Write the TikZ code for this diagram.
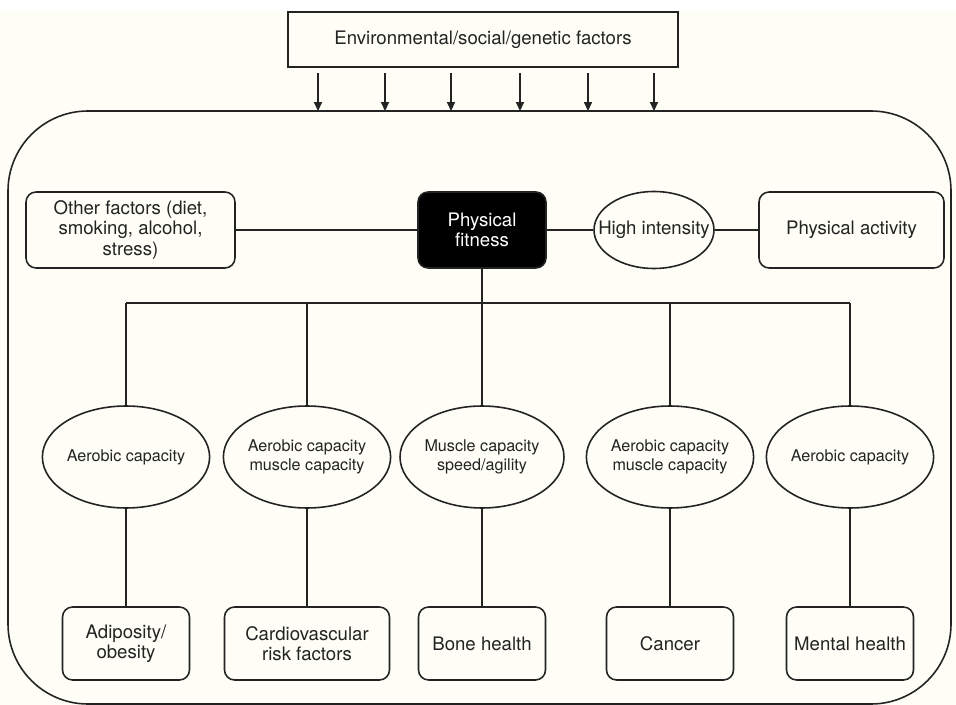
\documentclass[tikz,border=0pt]{standalone}
\usepackage{fontspec}
\setmainfont{TeX Gyre Heros}
\usetikzlibrary{shapes.geometric, arrows.meta}
\definecolor{Cream}{RGB}{254,254,246}
\definecolor{Ink}{RGB}{35,35,35}

\begin{document}
\begin{tikzpicture}[x=0.02cm, y=-0.02cm, line width=0.9pt, color=Ink,
    font=\fontsize{10.6}{11.6}\selectfont,
    box/.style={draw, rounded corners=0.2cm, fill=Cream, align=center, inner sep=0pt, minimum height=1.46cm},
    oval/.style={draw, ellipse, fill=Cream, align=center, inner sep=0pt, minimum width=3.28cm, minimum height=2.04cm, font=\fontsize{9.2}{11}\selectfont},
    arr/.style={-{Triangle[length=5pt,width=4.5pt]}}]
  % page
  \fill[white] (0,0) rectangle (956,705);
  \fill[Cream] (0,11) rectangle (956,705);
  \useasboundingbox (0,0) rectangle (956,705);

  % outer frame and factors on top
  \draw[rounded corners=1.6cm] (8,111) rectangle (951,704);
  \coordinate (frametop) at (482,111);
  \node[draw, fill=Cream, minimum width=7.8cm, minimum height=1.1cm] (env) at (483,39.5) {Environmental/social/genetic factors};
  \foreach \x in {318,385,451,520,588,654}
    \draw[arr] ([yshift=-3pt]env.south -| \x,0) -- (frametop -| \x,0);

  % top row
  \node[box, minimum width=4.18cm, minimum height=1.52cm] (other) at (130.5,230) {Other factors (diet,\\ smoking, alcohol,\\ stress)};
  \node[box, fill=black, text=white, minimum width=2.56cm, minimum height=1.52cm] (pf) at (482,230) {Physical\\ fitness};
  \node[draw, ellipse, fill=Cream, minimum width=2.4cm, minimum height=1.54cm, label=center:High intensity] (hi) at (654,230) {};
  \node[box, minimum width=3.7cm, minimum height=1.52cm] (pa) at (851.5,230) {Physical activity};
  \draw (other) -- (pf) -- (hi) -- (pa);

  % fitness components
  \coordinate (bus) at (482,303);
  \node[oval] (e1) at (126,457) {Aerobic capacity};
  \node[oval] (e2) at (307,457) {Aerobic capacity\\ muscle capacity};
  \node[oval] (e3) at (482,457) {Muscle capacity\\ speed/agility};
  \node[oval] (e4) at (670,457) {Aerobic capacity\\ muscle capacity};
  \node[oval] (e5) at (850,457) {Aerobic capacity};

  % health outcomes
  \node[box, minimum width=2.54cm] (o1) at (126,643.5) {Adiposity/\\ obesity};
  \node[box, minimum width=3.3cm] (o2) at (307,643.5) {Cardiovascular\\ risk factors};
  \node[box, minimum width=2.54cm] (o3) at (482,643.5) {Bone health};
  \node[box, minimum width=2.54cm] (o4) at (670,643.5) {Cancer};
  \node[box, minimum width=2.54cm] (o5) at (850,643.5) {Mental health};

  \draw (pf) -- (pf |- bus);
  \draw (e1 |- bus) -- (e5 |- bus);
  \foreach \i in {1,...,5} {
    \draw (e\i |- bus) -- (e\i);
    \draw (e\i) -- (o\i);
  }
\end{tikzpicture}
\end{document}
